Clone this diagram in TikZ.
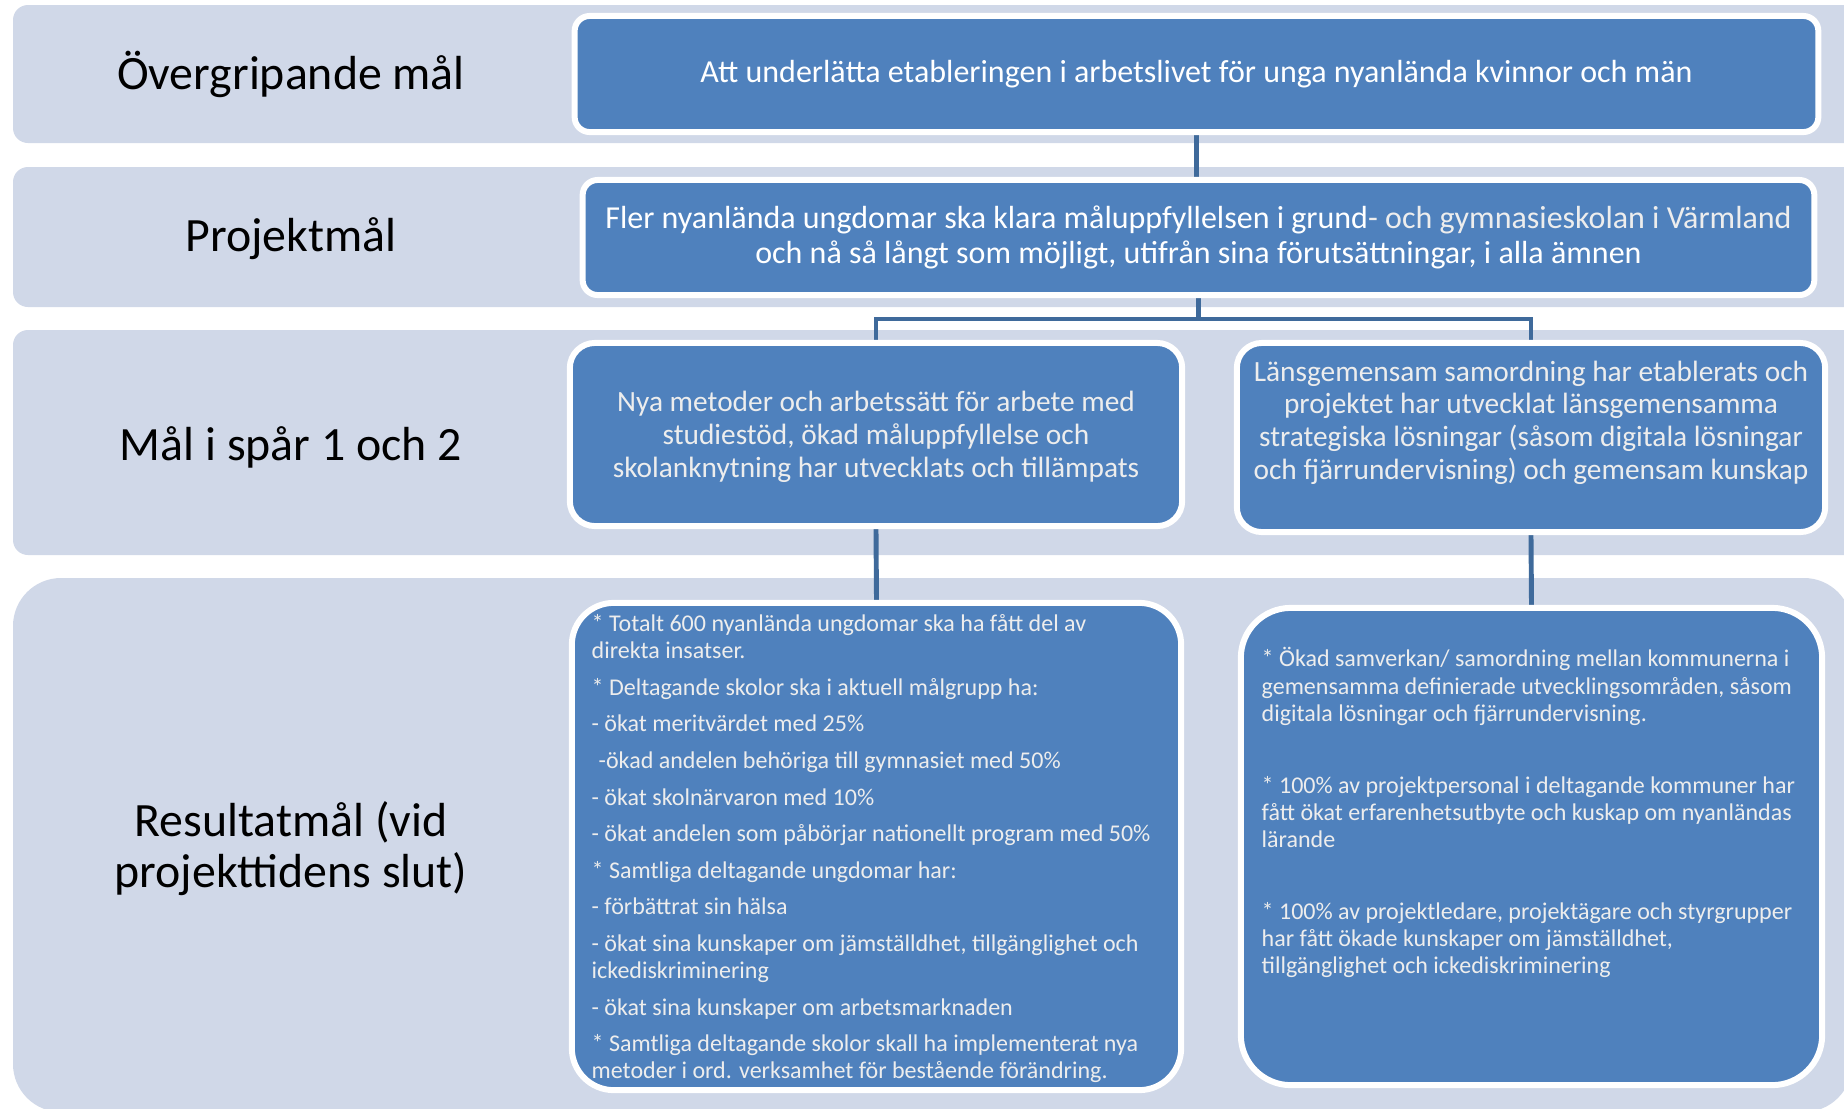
\documentclass[tikz,border=0pt]{standalone}
\usepackage{fontspec}
\setmainfont{Carlito}
\pgfdeclarelayer{bandlayer}
\pgfdeclarelayer{linklayer}
\pgfsetlayers{bandlayer,linklayer,main}
\definecolor{bandcol}{HTML}{D0D8E8}
\definecolor{boxblue}{HTML}{4F81BD}
\definecolor{linkcol}{HTML}{3F6A9B}
\definecolor{softwhite}{HTML}{EDEDED}
\tikzset{
  goalbox/.style={rectangle, fill=boxblue, draw=white, line width=1.7pt, inner sep=0pt, text=white, align=center},
  rowlabel/.style={font=\fontsize{13.6}{14.5}\selectfont, text=black, align=center, inner sep=0pt},
  bigtext/.style={font=\fontsize{9.1}{10}\selectfont},
  midtext/.style={font=\fontsize{8.35}{9.3}\selectfont, text=softwhite, align=center, inner sep=0pt},
  smalltext/.style={font=\fontsize{6.83}{7.7}\selectfont, text=softwhite, align=left, inner sep=0pt},
  linkline/.style={draw=linkcol, line width=1.4pt}
}
\begin{document}
\begin{tikzpicture}[x=0.01cm, y=-0.01cm]
\path[use as bounding box] (0,0) rectangle (1844,1108);
\begin{pgfonlayer}{bandlayer}
\begin{scope}
\clip (0,0) rectangle (1844,1108);
\fill[white] (0,0) rectangle (1844,1108);
\fill[bandcol, rounded corners=0.15cm] (13,5) rectangle (1880,143);
\fill[bandcol, rounded corners=0.15cm] (13,167) rectangle (1880,307);
\fill[bandcol, rounded corners=0.15cm] (13,330) rectangle (1880,555);
\fill[bandcol, rounded corners=0.48cm] (13,578) rectangle (1852,1112);
\end{scope}
\end{pgfonlayer}

% row labels
\node[rowlabel] (l1) at (291,74) {Övergripande mål};
\node[rowlabel] (l2) at (291,239) {Projektmål};
\node[rowlabel] (l3) at (291,447) {Mål i spår 1 och 2};
\node[rowlabel] (l4) at (291,849) {Resultatmål (vid\\projekttidens slut)};

% boxes
\node[goalbox, bigtext, rounded corners=0.15cm, minimum width=12.43cm, minimum height=1.16cm] (b1) at (1196.5,74)
  {Att underlätta etableringen i arbetslivet för unga nyanlända kvinnor och män};
\node[goalbox, bigtext, rounded corners=0.15cm, minimum width=12.31cm, minimum height=1.15cm] (b2) at (1198.5,237.5)
  {Fler nyanlända ungdomar ska klara måluppfyllelsen i grund{\color{softwhite}- och gymnasieskolan i Värmland}\\och nå så långt som möjligt, utifrån sina förutsättningar, i alla ämnen};
\node[goalbox, rounded corners=0.25cm, minimum width=6.12cm, minimum height=1.83cm] (b3) at (876,434.5) {};
\node[goalbox, rounded corners=0.25cm, minimum width=5.88cm, minimum height=1.89cm] (b4) at (1531,437.5) {};
\node[goalbox, rounded corners=0.42cm, minimum width=6.09cm, minimum height=4.87cm] (b5) at (876.5,846.5) {};
\node[goalbox, rounded corners=0.5cm, minimum width=5.81cm, minimum height=4.77cm] (b6) at (1531.5,846.5) {};

\node[midtext] (t3) at ([yshift=-0.025cm]b3.center)
  {Nya metoder och arbetssätt för arbete med\\studiestöd, ökad måluppfyllelse och\\skolanknytning har utvecklats och tillämpats};
\node[midtext] (t4) at ([yshift=0.15cm]b4.center)
  {Länsgemensam samordning har etablerats och\\projektet har utvecklat länsgemensamma\\strategiska lösningar (såsom digitala lösningar\\och fjärrundervisning) och gemensam kunskap};

\node[smalltext, anchor=north west] (t5) at (591,614) {%
* Totalt 600 nyanlända ungdomar ska ha fått del av\\
direkta insatser.\\[2.7pt]
* Deltagande skolor ska i aktuell målgrupp ha:\\[2.7pt]
- ökat meritvärdet med 25\%\\[2.7pt]
\hspace*{2pt}-ökad andelen behöriga till gymnasiet med 50\%\\[2.7pt]
- ökat skolnärvaron med 10\%\\[2.7pt]
- ökat andelen som påbörjar nationellt program med 50\%\\[2.7pt]
* Samtliga deltagande ungdomar har:\\[2.7pt]
- förbättrat sin hälsa\\[2.7pt]
- ökat sina kunskaper om jämställdhet, tillgänglighet och\\
ickediskriminering\\[2.7pt]
- ökat sina kunskaper om arbetsmarknaden\\[2.7pt]
* Samtliga deltagande skolor skall ha implementerat nya\\
metoder i ord. verksamhet för bestående förändring.};

\node[smalltext, anchor=north west] (t6) at (1261,647) {%
* Ökad samverkan/ samordning mellan kommunerna i\\
gemensamma definierade utvecklingsområden, såsom\\
digitala lösningar och fjärrundervisning.\\[12.8pt]
* 100\% av projektpersonal i deltagande kommuner har\\
fått ökat erfarenhetsutbyte och kuskap om nyanländas\\
lärande\\[12.8pt]
* 100\% av projektledare, projektägare och styrgrupper\\
har fått ökade kunskaper om jämställdhet,\\
tillgänglighet och ickediskriminering};

% connectors
\coordinate (jn) at (1197,319);
\begin{pgfonlayer}{linklayer}
\draw[linkline] (b1.south) -- (b1.south |- b2.north);
\draw[linkline] (b2.south) -- (b2.south |- jn);
\draw[linkline] (b3.north) -- (b3.north |- jn) -- (b4.north |- jn) -- (b4.north);
\draw[linkline] (b3.south) -- (b5.north);
\draw[linkline] (b4.south) -- (b6.north);
\end{pgfonlayer}
\end{tikzpicture}
\end{document}
